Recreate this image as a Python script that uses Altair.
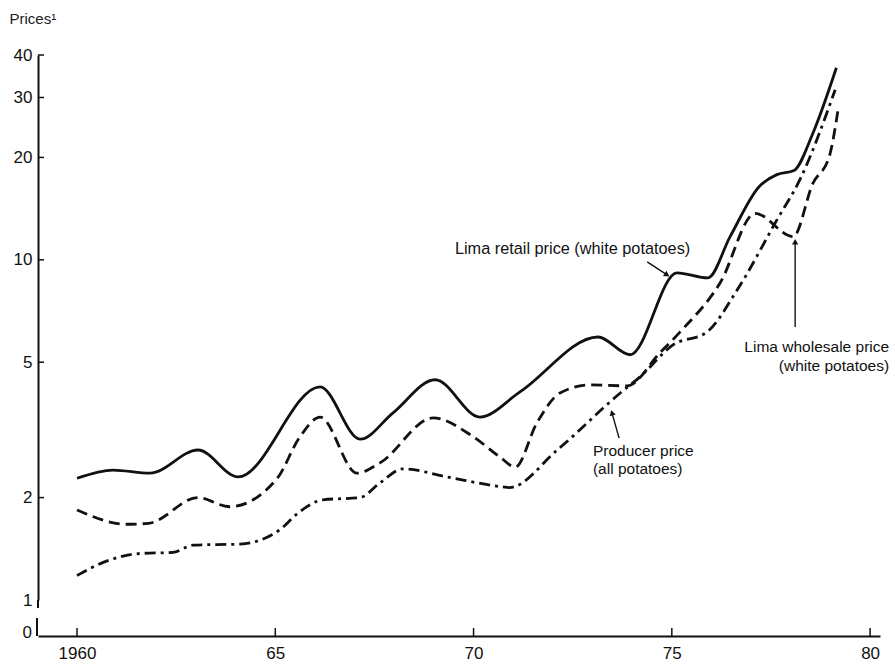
import altair as alt
import pandas as pd

# Lima retail price (white potatoes) -- solid line
retail_year = [1960.0, 1960.91, 1961.84, 1963.05, 1964.06, 1966.13, 1967.14,
               1967.97, 1969.03, 1970.16, 1971.17, 1973.14, 1973.95, 1975.13, 1975.91,
               1976.47, 1977.2, 1977.65, 1978.08, 1978.56, 1979.15]
retail_price = [2.28, 2.41, 2.36, 2.76, 2.30, 4.23, 2.97,
                3.55, 4.44, 3.45, 4.09, 5.93, 5.26, 9.16, 8.85,
                11.7, 16.4, 17.8, 18.3, 23.6, 36.7]

# Lima wholesale price (white potatoes) -- dashed line
wholesale_year = [1960.0, 1961.25, 1961.8, 1963.05, 1963.85, 1965.05, 1965.6,
                  1966.13, 1967.06, 1967.64, 1968.98, 1969.99, 1970.67, 1971.05, 1971.6,
                  1972.18, 1972.94, 1973.87, 1974.7, 1975.21, 1976.22, 1977.1, 1978.06,
                  1978.56, 1978.97, 1979.2]
wholesale_price = [1.84, 1.67, 1.68, 2.00, 1.88, 2.28, 2.99,
                   3.45, 2.36, 2.53, 3.43, 3.02, 2.63, 2.46, 3.32,
                   4.06, 4.29, 4.26, 5.33, 6.14, 8.56, 13.7, 11.7,
                   16.8, 20.1, 28.0]

# Producer price (all potatoes) -- dash-dot line
producer_year = [1960.0, 1960.66, 1961.59, 1962.42, 1962.93, 1964.11, 1964.62, 1965.12,
                 1965.57, 1966.2, 1967.14, 1967.64, 1968.22, 1969.33, 1970.74, 1970.9,
                 1972.11, 1973.7, 1974.2, 1975.03, 1975.89, 1976.65, 1977.65, 1978.23,
                 1979.12]
producer_price = [1.18, 1.29, 1.37, 1.38, 1.45, 1.46, 1.50, 1.61,
                  1.80, 1.97, 2.00, 2.21, 2.43, 2.30, 2.15, 2.14,
                  2.76, 4.06, 4.53, 5.62, 6.14, 8.16, 13.1, 17.2,
                  31.6]

# Axis ticks
x_ticks = [1960, 1965, 1970, 1975, 1980]
y_labels = [1, 2, 5, 10, 20, 30, 40]
y_ticks = [2, 5, 10, 20, 30, 40]

# Callout labels and their arrows (data coordinates)
label_left_text = ["Lima retail price (white potatoes)", "Producer price", "(all potatoes)"]
label_left_year = [1969.53, 1973.01, 1973.01]
label_left_price = [10.77, 2.74, 2.43]
label_left_size = [16.3, 15.5, 15.5]
label_right_text = ["Lima wholesale price", "(white potatoes)"]
label_right_year = [1980.48, 1980.48]
label_right_price = [5.55, 4.88]

arrow_year = [1974.38, 1978.11, 1973.67]
arrow_price = [9.86, 6.35, 2.99]
arrow_tip_year = [1974.88, 1978.11, 1973.49]
arrow_tip_price = [9.03, 11.3, 3.55]
arrow_angle = [123, 0, 344]

W, H = 842, 545
X_OFFSET = 36
FONT = "Liberation Sans"
INK = "#111111"

x_scale = alt.Scale(domain=[1959.016, 1980.25], nice=False, zero=False)
y_scale = alt.Scale(type="log", domain=[1, 40], nice=False)

x_axis = alt.Axis(values=x_ticks, ticks=False, tickSize=0, grid=False, offset=X_OFFSET,
                  labelExpr="datum.value == 1960 ? '1960' : format(datum.value % 100, '02d')",
                  labelFontSize=17, labelPadding=9, labelColor=INK,
                  domainColor=INK, domainWidth=2, title=None)
y_axis = alt.Axis(values=y_labels, ticks=False, tickSize=0, grid=False,
                  labelFontSize=17, labelPadding=6, labelColor=INK,
                  domainColor=INK, domainWidth=2,
                  title="Prices\u00b9", titleAngle=0, titleAlign="left",
                  titleBaseline="middle", titleX=-29, titleY=-37,
                  titleFontSize=15, titleFontWeight="normal", titleColor="#222222")


def xenc(field="year"):
    return alt.X(f"{field}:Q", scale=x_scale, axis=x_axis)


def yenc(field="price"):
    return alt.Y(f"{field}:Q", scale=y_scale, axis=y_axis)


def series(years, prices, dash):
    df = pd.DataFrame({"year": years, "price": prices})
    mark = dict(color=INK, strokeWidth=2.8, interpolate="monotone")
    if dash:
        mark["strokeDash"] = dash
    return alt.Chart(df).mark_line(**mark).encode(x=xenc(), y=yenc())


retail = series(retail_year, retail_price, None)
wholesale = series(wholesale_year, wholesale_price, [11, 6])
producer = series(producer_year, producer_price, [11, 5, 3, 5])

# inward tick marks on both axes
ytick_df = pd.DataFrame({"price": y_ticks})
y_tick_marks = alt.Chart(ytick_df).mark_rule(color=INK, strokeWidth=1.5).encode(
    y=yenc(), x=alt.value(0), x2=alt.value(6))

xtick_df = pd.DataFrame({"year": x_ticks})
x_tick_marks = alt.Chart(xtick_df).mark_rule(color=INK, strokeWidth=1.5).encode(
    x=xenc(), y=alt.value(H + X_OFFSET), y2=alt.value(H + X_OFFSET - 8))

# broken y axis: short extension below 1, gap, and stub down to the zero line
axis_ext = alt.Chart(pd.DataFrame({"k": [0]})).mark_rule(color=INK, strokeWidth=2).encode(
    x=alt.value(0), y=alt.value(H), y2=alt.value(H + 8))
axis_stub = alt.Chart(pd.DataFrame({"k": [0]})).mark_rule(color=INK, strokeWidth=2).encode(
    x=alt.value(-1), y=alt.value(H + 18), y2=alt.value(H + X_OFFSET))
zero_label = alt.Chart(pd.DataFrame({"t": ["0"]})).mark_text(
    font=FONT, fontSize=17, color=INK, align="right", baseline="middle").encode(
    text="t:N", x=alt.value(-6), y=alt.value(H + X_OFFSET - 3))

# callouts
left_df = pd.DataFrame({"year": label_left_year, "price": label_left_price,
                        "t": label_left_text, "fs": label_left_size})
left_labels = alt.Chart(left_df).mark_text(
    font=FONT, color=INK, align="left", baseline="middle").encode(
    x=xenc(), y=yenc(), text="t:N", size=alt.Size("fs:Q", scale=None, legend=None))

right_df = pd.DataFrame({"year": label_right_year, "price": label_right_price, "t": label_right_text})
right_labels = alt.Chart(right_df).mark_text(
    font=FONT, fontSize=15.5, color=INK, align="right", baseline="middle").encode(
    x=xenc(), y=yenc(), text="t:N")

arrow_df = pd.DataFrame({"year": arrow_year, "price": arrow_price,
                         "year2": arrow_tip_year, "price2": arrow_tip_price,
                         "angle": arrow_angle})
arrow_lines = alt.Chart(arrow_df).mark_rule(color=INK, strokeWidth=1.4).encode(
    x=xenc(), y=yenc(), x2="year2:Q", y2="price2:Q")
arrow_heads = alt.Chart(arrow_df).mark_point(
    shape="triangle-up", filled=True, color=INK, size=40, opacity=1).encode(
    x=xenc("year2"), y=yenc("price2"), angle=alt.Angle("angle:Q", scale=None))

chart = alt.layer(
    retail, wholesale, producer,
    y_tick_marks, x_tick_marks, axis_ext, axis_stub, zero_label,
    left_labels, right_labels, arrow_lines, arrow_heads,
).properties(
    width=W, height=H,
    autosize=alt.AutoSizeParams(type="none"),
    padding={"left": 38, "top": 55, "right": 15, "bottom": 70},
    background="white",
).configure_view(
    stroke=None
).configure_axis(
    labelFont=FONT, titleFont=FONT
)

chart.save("out.html", embed_options={"renderer": "svg", "actions": False})
